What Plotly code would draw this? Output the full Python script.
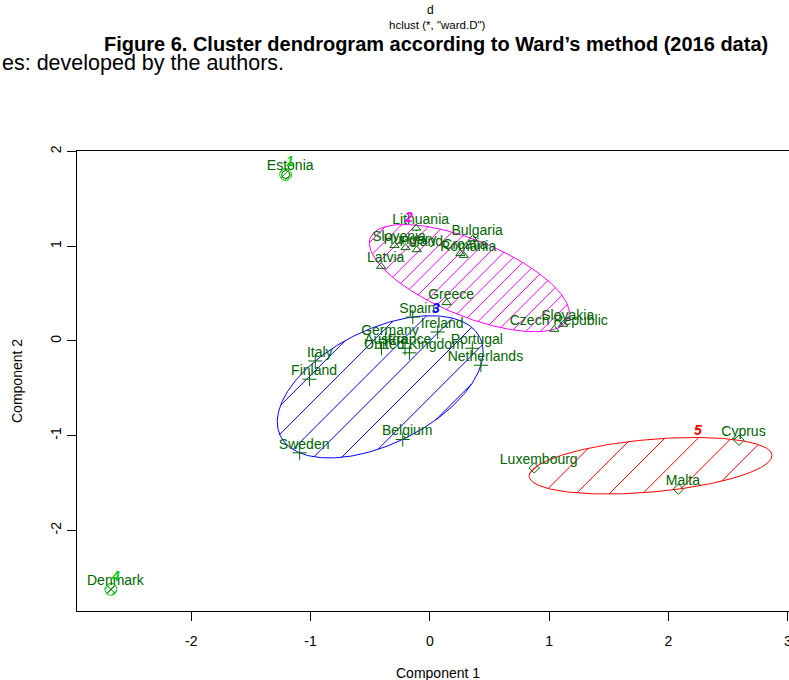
import numpy as np
import plotly.graph_objects as go

# ---------------- data ----------------
countries = ["Estonia", "Lithuania", "Bulgaria", "Slovenia", "Hungary", "Poland",
             "Romania", "Croatia", "Latvia", "Greece", "Slovakia", "Czech Republic",
             "Spain", "Ireland", "Germany", "Austria", "France", "United Kingdom",
             "Portugal", "Netherlands", "Italy", "Finland", "Belgium", "Sweden",
             "Denmark", "Cyprus", "Luxembourg", "Malta"]
comp1 = [-1.208, -0.115, 0.359, -0.296, -0.204, -0.110,
         0.284, 0.256, -0.408, 0.141, 1.118, 1.043,
         -0.143, 0.066, -0.372, -0.405, -0.208, -0.171,
         0.356, 0.428, -0.960, -1.008, -0.227, -1.091,
         -2.673, 2.591, 0.875, 2.083]
comp2 = [1.757, 1.191, 1.079, 1.008, 0.984, 0.963,
         0.903, 0.924, 0.787, 0.404, 0.175, 0.122,
         0.252, 0.094, 0.017, -0.078, -0.078, -0.126,
         -0.078, -0.257, -0.212, -0.405, -1.041, -1.182,
         -2.623, -1.049, -1.341, -1.565]
cluster = [1, 2, 2, 2, 2, 2,
           2, 2, 2, 2, 2, 2,
           3, 3, 3, 3, 3, 3,
           3, 3, 3, 3, 3, 3,
           4, 5, 5, 5]
x_ticks = [-2, -1, 0, 1, 2, 3]
y_ticks = [-2, -1, 0, 1, 2]

# ---------------- styles ----------------
clus_color = {1: "#00CD00", 2: "#FF00FF", 3: "#0000FF", 4: "#00CD00", 5: "#FF0000"}
clus_symbol = {1: "circle-open", 2: "triangle-up-open", 3: "cross-thin-open",
               4: "x-thin-open", 5: "diamond-open"}
hatch_px = {1: 4.5, 2: 10.2, 3: 20.0, 4: 4.5, 5: 23.5}   # hatch spacing (pixels)
point_color = "#006400"
XR = [-2.957, 3.01]
YR = [-2.852, 2.005]
W, H = 789, 680
ML, MR, MT, MB = 77, 0, 151, 69
pw, ph = W - ML - MR, H - MT - MB
sx = pw / (XR[1] - XR[0])      # px per x unit
sy = ph / (YR[1] - YR[0])      # px per y unit
S = np.diag([sx, sy])
lab_dx, lab_dy = 4.5 / sx, 7.5 / sy   # text offset
SANS = "Liberation Sans, Arial, sans-serif"


def mvee(P, tol=1e-9):
    N, d = P.shape
    Q = np.vstack([P.T, np.ones(N)])
    u = np.ones(N) / N
    for _ in range(20000):
        X = Q @ np.diag(u) @ Q.T
        M = np.einsum("ij,ji->i", Q.T @ np.linalg.inv(X), Q)
        j = int(np.argmax(M))
        step = (M[j] - d - 1) / ((d + 1) * (M[j] - 1))
        nu = (1 - step) * u
        nu[j] += step
        if np.linalg.norm(nu - u) < tol:
            u = nu
            break
        u = nu
    c = u @ P
    A = np.linalg.inv(P.T @ np.diag(u) @ P - np.outer(c, c)) / d
    return A, c


x = np.array(comp1)
y = np.array(comp2)
cl = np.array(cluster)

fig = go.Figure()
annotations = []

for k in sorted(set(cluster)):
    idx = np.where(cl == k)[0]
    P = np.column_stack([x[idx], y[idx]])
    if len(idx) >= 3:
        A, c = mvee(P)
        Ap = np.linalg.inv(S) @ A @ np.linalg.inv(S)   # pixel-space matrix
        cp = S @ c
    else:
        c = P.mean(axis=0)
        cp = S @ c
        Ap = np.eye(2) / 6.0 ** 2
    vals, vecs = np.linalg.eigh(Ap)
    t = np.linspace(0, 2 * np.pi, 361)
    circ = np.vstack([np.cos(t), np.sin(t)])
    bp = cp[:, None] + vecs @ np.diag(1 / np.sqrt(vals)) @ circ
    bx, by = bp[0] / sx, bp[1] / sy
    fig.add_trace(go.Scatter(x=bx, y=by, mode="lines",
                             line=dict(color=clus_color[k], width=1),
                             hoverinfo="skip", showlegend=False))
    # hatching at 45 degrees on screen
    dvec = np.array([1.0, 1.0]) / np.sqrt(2)
    nvec = np.array([1.0, -1.0]) / np.sqrt(2)
    s = hatch_px[k]
    proj = nvec @ cp
    rmax = 1 / np.sqrt(vals.min())
    hx, hy = [], []
    for m in range(int(np.floor((proj - rmax) / s)) - 1, int(np.ceil((proj + rmax) / s)) + 2):
        p0 = m * s * nvec - cp
        a = dvec @ Ap @ dvec
        b = 2 * dvec @ Ap @ p0
        cc = p0 @ Ap @ p0 - 1
        disc = b * b - 4 * a * cc
        if disc <= 0:
            continue
        t1 = (-b - np.sqrt(disc)) / (2 * a)
        t2 = (-b + np.sqrt(disc)) / (2 * a)
        q1 = m * s * nvec + t1 * dvec
        q2 = m * s * nvec + t2 * dvec
        hx += [q1[0] / sx, q2[0] / sx, None]
        hy += [q1[1] / sy, q2[1] / sy, None]
    fig.add_trace(go.Scatter(x=hx, y=hy, mode="lines",
                             line=dict(color=clus_color[k], width=1),
                             hoverinfo="skip", showlegend=False))
    top = int(np.argmax(by))
    annotations.append(dict(x=bx[top] + lab_dx, y=by[top] + lab_dy, xref="x", yref="y",
                            text="<b><i>%d</i></b>" % k, showarrow=False,
                            font=dict(family=SANS, size=14, color=clus_color[k]),
                            xanchor="center", yanchor="middle"))

for k in sorted(set(cluster)):
    idx = np.where(cl == k)[0]
    fig.add_trace(go.Scatter(x=x[idx], y=y[idx], mode="markers",
                             marker=dict(symbol=clus_symbol[k], size=8 if k != 3 else 10,
                                         color=point_color,
                                         line=dict(color=point_color, width=1)),
                             hoverinfo="skip", showlegend=False))

fig.add_trace(go.Scatter(x=x + lab_dx, y=y + lab_dy, mode="text", text=countries,
                         textposition="middle center",
                         textfont=dict(family=SANS, size=14, color=point_color),
                         hoverinfo="skip", showlegend=False))


def px2paper(px, py):
    return (px - ML) / pw, (H - MB - py) / ph


for txt, (px, py), size, anchor, ang in [
    ("d", (430, 10), 12, "center", 0),
    ("hclust (*, \"ward.D\")", (437, 25), 11.5, "center", 0),
    ("<b>Figure 6. Cluster dendrogram according to Ward’s method (2016 data)</b>", (436, 44), 20, "center", 0),
    ("es: developed by the authors.", (0, 63), 21.5, "left", 0),
    ("Component 1", (438, 673), 14, "center", 0),
    ("Component 2", (17, 381), 14, "center", -90),
]:
    xp, yp = px2paper(px, py)
    annotations.append(dict(x=xp, y=yp, xref="paper", yref="paper", text=txt,
                            showarrow=False, xanchor=anchor, yanchor="middle",
                            textangle=ang,
                            font=dict(family=SANS, size=size, color="black")))

fig.update_layout(
    width=W, height=H,
    margin=dict(l=ML, r=MR, t=MT, b=MB, autoexpand=False),
    paper_bgcolor="white", plot_bgcolor="white",
    annotations=annotations,
    font=dict(family=SANS, size=14, color="black"),
    xaxis=dict(range=XR, tickvals=x_ticks, ticktext=[str(v) for v in x_ticks],
               showgrid=False, zeroline=False, showline=True, mirror=True,
               linecolor="black", linewidth=1, ticks="outside", ticklen=9,
               tickcolor="black", ticklabelstandoff=8, automargin=False,
               ticklabeloverflow="allow"),
    yaxis=dict(range=YR, tickvals=y_ticks, ticktext=[str(v) for v in y_ticks],
               showgrid=False, zeroline=False, showline=True, mirror=False,
               linecolor="black", linewidth=1, ticks="outside", ticklen=9,
               tickcolor="black", tickangle=-90, automargin=False),
)

fig.write_html("out.html",
               config={"displayModeBar": False},
               post_script="document.body.style.margin='0px';"
                           "document.body.style.overflow='hidden';")
